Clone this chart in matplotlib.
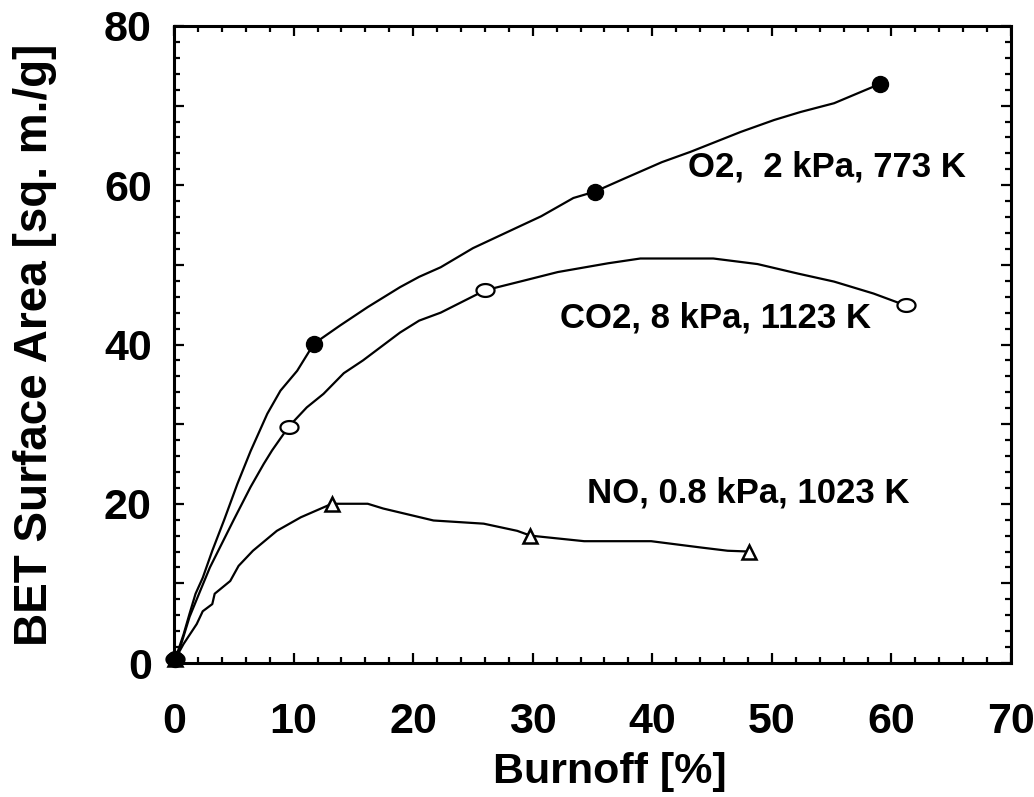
import numpy as np
import matplotlib
matplotlib.use('Agg')
import matplotlib.pyplot as plt
from matplotlib.path import Path
from matplotlib.ticker import MultipleLocator, FuncFormatter

plt.rcParams['font.family'] = ['Liberation Sans', 'DejaVu Sans']
plt.rcParams['font.weight'] = 'bold'

o2_curve_x = [0.1, 0.8, 1.3, 1.8, 2.4, 3.2, 4.2, 5.3, 6.4, 7.8, 8.9, 10.3, 11.7, 13.9, 16.2, 18.9,
              20.5, 22.3, 25.0, 28.7, 30.7, 33.4, 35.2, 37.6, 40.8, 43.2, 47.4, 50.2, 52.4, 55.2, 59.0]
o2_curve_y = [0.5, 3.6, 6.2, 8.7, 10.7, 14.1, 18.0, 22.5, 26.6, 31.3, 34.2, 36.7, 40.1, 42.4, 44.7, 47.2,
              48.5, 49.7, 52.1, 54.7, 56.1, 58.4, 59.2, 60.8, 62.9, 64.2, 66.7, 68.2, 69.2, 70.3, 72.7]

co2_curve_x = [0.1, 0.5, 1.3, 2.2, 3.0, 3.7, 5.0, 6.4, 7.5, 8.2, 9.6, 11.1, 12.5, 14.2, 15.8, 18.9,
               20.5, 22.3, 26.0, 29.2, 32.1, 36.3, 39.0, 45.1, 48.8, 52.2, 55.2, 58.5, 61.2]
co2_curve_y = [0.5, 1.9, 5.8, 9.1, 12.0, 14.1, 18.0, 22.1, 25.0, 26.7, 29.7, 32.1, 33.8, 36.4, 38.0, 41.5,
               43.0, 44.0, 46.8, 48.0, 49.1, 50.2, 50.8, 50.8, 50.1, 48.9, 47.9, 46.4, 44.9]

no_curve_x = [0.1, 0.8, 1.9, 2.4, 3.2, 3.4, 4.7, 5.4, 6.6, 8.6, 10.6, 13.2, 16.2, 17.5, 18.9, 21.7,
              25.9, 28.7, 29.8, 34.3, 39.9, 44.1, 46.3, 48.1]
no_curve_y = [0.5, 2.4, 4.9, 6.5, 7.4, 8.7, 10.3, 12.2, 14.1, 16.6, 18.3, 20.0, 20.0, 19.4, 18.9, 17.9,
              17.5, 16.6, 16.0, 15.3, 15.3, 14.5, 14.1, 14.0]

# measured points
o2_x = [0.1, 11.7, 35.2, 59.0]
o2_y = [0.5, 40.1, 59.2, 72.7]
co2_x = [0.1, 9.6, 26.0, 61.2]
co2_y = [0.5, 29.7, 46.8, 44.9]
no_x = [0.1, 13.2, 29.8, 48.1]
no_y = [0.5, 20.0, 16.0, 14.0]

labels = ['O2,  2 kPa, 773 K', 'CO2, 8 kPa, 1123 K', 'NO, 0.8 kPa, 1023 K']
label_pos = [(43.0, 62.3), (32.3, 43.3), (34.5, 21.3)]

# slightly flattened circle for the CO2 points
t = np.linspace(0, 2*np.pi, 60)
ellipse = Path(np.column_stack([1.4*np.cos(t), np.sin(t)]), closed=True)

fig = plt.figure(figsize=(10.34, 7.97), dpi=100)
ax = fig.add_axes([0.1683, 0.1681, 0.8095, 0.7993])

ax.plot(o2_curve_x, o2_curve_y, color='black', lw=1.6)
ax.plot(co2_curve_x, co2_curve_y, color='black', lw=1.6)
ax.plot(no_curve_x, no_curve_y, color='black', lw=1.6)

ax.plot(no_x, no_y, ls='none', marker='^', ms=10, mfc='white', mec='black', mew=1.8, clip_on=False, zorder=3)
ax.plot(co2_x, co2_y, ls='none', marker=ellipse, ms=13, mfc='white', mec='black', mew=1.6, clip_on=False, zorder=3)
ax.plot(o2_x, o2_y, ls='none', marker='o', ms=11.5, mfc='black', mec='black', clip_on=False, zorder=4)

for txt, (tx, ty) in zip(labels, label_pos):
    ax.text(tx, ty, txt, fontsize=25, fontweight='bold', ha='left', va='center')

ax.set_xlim(0, 70)
ax.set_ylim(0, 80)
ax.xaxis.set_major_locator(MultipleLocator(10))
ax.xaxis.set_minor_locator(MultipleLocator(2))
ax.yaxis.set_major_locator(MultipleLocator(10))
ax.yaxis.set_minor_locator(MultipleLocator(2))
ax.yaxis.set_major_formatter(FuncFormatter(lambda v, p: '%d' % v if int(round(v)) % 20 == 0 else ''))

ax.tick_params(which='both', direction='in', top=True, right=True, width=1.6)
ax.tick_params(which='major', length=7.5, labelsize=31)
ax.tick_params(which='minor', length=4)
ax.tick_params(axis='x', which='major', pad=28)
ax.tick_params(axis='y', which='major', pad=16)
for s in ax.spines.values():
    s.set_linewidth(2.2)

ax.set_xlabel('Burnoff [%]', fontsize=31, fontweight='bold')
ax.set_ylabel('BET Surface Area [sq. m./g]', fontsize=33, fontweight='bold')
ax.xaxis.set_label_coords(0.521, -0.14)
ax.yaxis.set_label_coords(-0.14, 0.5)

fig.savefig('out.png', dpi=100)
